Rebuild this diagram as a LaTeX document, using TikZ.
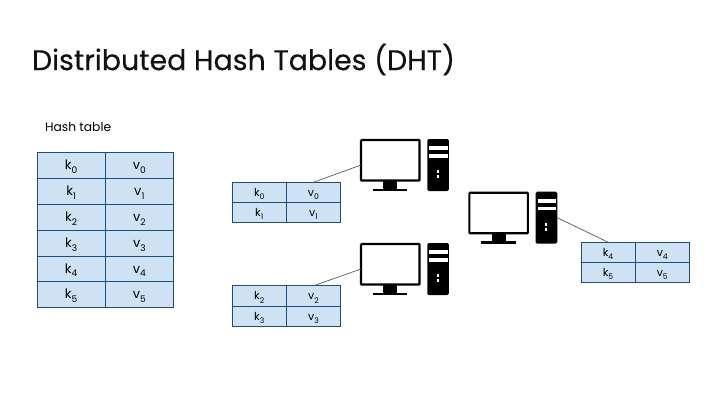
\documentclass[tikz,border=0pt]{standalone}
\usepackage{fontspec}
\setmainfont{Poppins}
\newfontfamily\titlefont[FakeBold=0.35]{Poppins}
\usetikzlibrary{calc}
\definecolor{dhtFill}{HTML}{cfe2f3}
\definecolor{dhtEdge}{HTML}{1b4f7a}
\definecolor{dhtLine}{HTML}{595959}
\definecolor{dhtTitle}{HTML}{111111}
\tikzset{
  cell/.style={draw=dhtEdge, fill=dhtFill, line width=0.8pt, inner sep=0pt, outer sep=0pt,
              text height=10.5pt, text depth=2.5pt, font=\fontsize{13}{15}\selectfont},
  bigcell/.style={cell, minimum width=68.2pt, minimum height=25.9pt},
  smallcell/.style={cell, minimum width=54.2pt, minimum height=20.2pt,
              font=\fontsize{11}{13}\selectfont},
  monitor/.style={draw=black, fill=white, line width=2.2pt, rounded corners=0.8pt, inner sep=0pt,
              outer sep=0pt, minimum width=58.5pt, minimum height=40.5pt},
  solid/.style={fill=black, inner sep=0pt, outer sep=0pt},
  slot/.style={fill=white, inner sep=0pt, outer sep=0pt, minimum width=18.4pt, minimum height=3.9pt},
  lead/.style={draw=dhtLine, line width=0.7pt},
}
\newcommand{\kv}[2]{#1\raisebox{-0.12em}{\textsubscript{#2}}}

\begin{document}
\begin{tikzpicture}[x=1pt,y=-1pt]
  \useasboundingbox (0,0) rectangle (720,405);
  \node[anchor=west,text=dhtTitle,font=\titlefont\fontsize{28.4}{32}\selectfont] (title) at (28.5,59.5) {Distributed Hash Tables (DHT)};
  \node[anchor=west,font=\fontsize{12.3}{15}\selectfont] (hashlbl) at (41.5,127) {Hash table};
  % whole table
  \foreach \r/\y in {0/165.3,1/191.3,2/217.3,3/243.2,4/269,5/294.5}{
    \node[bigcell] (t-k\r) at (71.4,\y) {\kv{k}{\r}};
    \node[bigcell] (t-v\r) at (139.6,\y) {\kv{v}{\r}};}
  % pieces of the table
  \foreach \n/\x/\y/\r in {a/259.5/192.3/0,a/259.5/212.4/1,b/259.5/295.8/2,b/259.5/316.5/3,c/608.3/252.4/4,c/608.3/272.7/5}{
    \node[smallcell] (\n-k\r) at (\x,\y) {\kv{k}{\r}};
    \node[smallcell] (\n-v\r) at (\x+54.2,\y) {\kv{v}{\r}};}
  % computers
  \foreach \n/\x/\y in {a/0/0,b/0/104,c/108.3/52.7}{
    \begin{scope}[shift={(\x,\y)}]
      \node[solid,minimum width=14pt,minimum height=8pt] (stand-\n) at (390.3,185.3) {};
      \node[solid,minimum width=34.6pt,minimum height=2.6pt] (base-\n) at (390,190) {};
      \node[monitor] (mon-\n) at (390.3,160.3) {};
      \node[solid,rounded corners=1.5pt,minimum width=21.7pt,minimum height=52pt] (tow-\n) at (438.1,165) {};
      \node[slot] (slota-\n) at (438.5,148.3) {};
      \node[slot] (slotb-\n) at (438.5,155.8) {};
      \node[fill=white,inner sep=0pt,minimum width=2pt,minimum height=2.5pt] (dota-\n) at (438,171.7) {};
      \node[fill=white,inner sep=0pt,minimum width=2pt,minimum height=2.5pt] (dotb-\n) at (438,176.7) {};
    \end{scope}}
  % leads
  \coordinate (enda) at ($(mon-a.west)+(0,4.7)$);
  \coordinate (endb) at ($(mon-b.west)+(0,4.7)$);
  \draw[lead] (a-v0.north) -- (enda);
  \draw[lead] (b-v2.north) -- (endb);
  \draw[lead] (tow-c.east) -- (c-k4.north);
\end{tikzpicture}
\end{document}
